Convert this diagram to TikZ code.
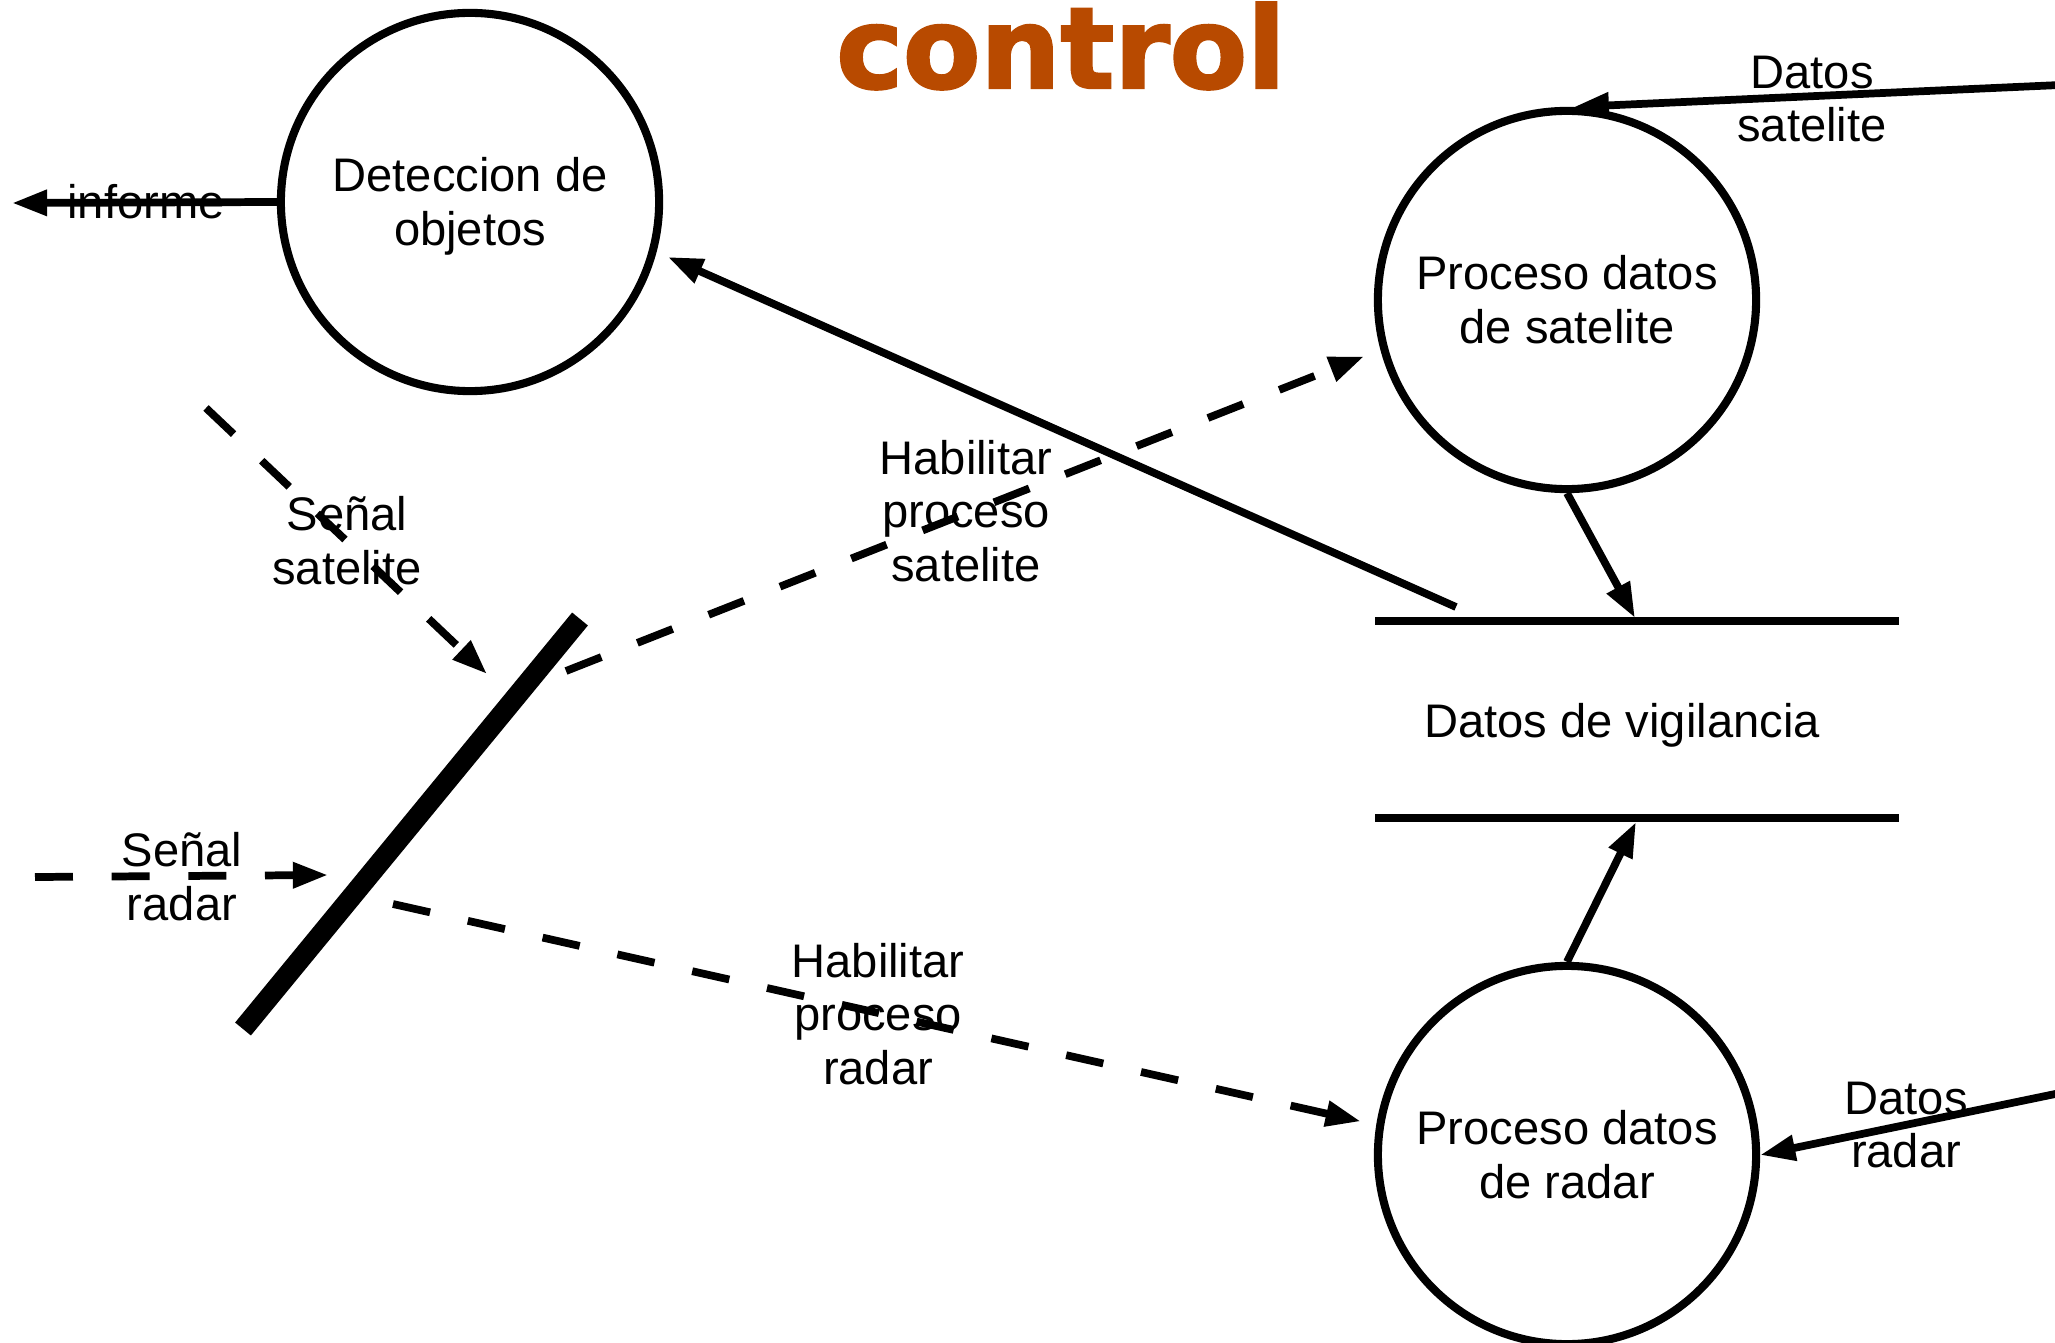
\documentclass[tikz,border=0pt]{standalone}
\usepackage{fontspec}
\setmainfont{Liberation Sans}
\newfontfamily\titlefont[FakeBold=2.2]{DejaVu Sans Bold}
\usepackage{tikz}
\usetikzlibrary{arrows.meta}
\definecolor{titulo}{RGB}{184,74,0}
\newcommand\bajar{\rule{0pt}{12.2pt}}

\begin{document}
\begin{tikzpicture}[x=0.01cm, y=-0.01cm,
    every node/.style={font=\fontsize{13.4}{15.3}\selectfont, align=center},
    proceso/.style={circle, draw, line width=2.3pt, minimum size=3.78cm, inner sep=0pt},
    flujo/.style={line width=2.2pt, -{Triangle[length=10pt, width=7pt]}},
    ctrl/.style={flujo, dash pattern=on 10.8pt off 11pt}]
      \useasboundingbox (0,0) rectangle (2055,1343);
      \node[anchor=base, font=\titlefont\fontsize{32}{38}\selectfont, text=titulo] (titulo) at (1061,88) {control};
      \node[proceso] (deteccion) at (470,202) {\bajar Deteccion de\\objetos};
      \node[proceso] (satelite) at (1567,300) {Proceso datos\\de satelite};
      \node[proceso] (radar) at (1567,1155) {Proceso datos\\de radar};
      \node (vigilancia) at (1622,725) {Datos de vigilancia};
      \draw[line width=2.3pt] (1375,621) -- (1899,621);
      \draw[line width=2.3pt] (1375,818) -- (1899,818);
      \draw[line width=5.8pt] (243,1029) -- (580,619);
      \coordinate (informe) at (12,203);
      \coordinate (sat in) at (2060,85);
      \coordinate (rad in) at (2060,1093);
      \coordinate (ss a) at (206,408);
      \coordinate (ss b) at (487,674);
      \coordinate (sr a) at (35,877);
      \coordinate (sr b) at (328,875);
      \coordinate (hs a) at (566,671);
      \coordinate (hr a) at (393,904);
      \coordinate (v arriba) at (1635,618);
      \coordinate (v abajo) at (1636,822);
      \coordinate (v salida) at (1456,607);
      \draw[flujo] (deteccion.west) -- (informe);
      \draw[flujo, shorten >=3.5pt] (v salida) -- (deteccion.-15);
      \draw[flujo] (satelite.south) -- (v arriba);
      \draw[flujo] (radar.north) -- (v abajo);
      \draw[flujo] (sat in) -- (satelite.88);
      \draw[flujo] (rad in) -- (radar.east);
      \draw[ctrl] (ss a) -- (ss b);
      \draw[ctrl] (sr a) -- (sr b);
      \draw[ctrl, shorten >=5pt] (hs a) -- (satelite.195);
      \draw[ctrl, shorten >=4.5pt] (hr a) -- (radar.171);
      \node (l informe) at (146,202) {informe};
      \node (l datsat) at (1812,99) {Datos\\satelite};
      \node (l datrad) at (1906,1125) {Datos\\radar};
      \node (l ss) at (347,541) {Señal\\satelite};
      \node (l sr) at (182,877) {Señal\\radar};
      \node (l hs) at (966,511) {Habilitar\\proceso\\satelite};
      \node (l hr) at (878,1014) {Habilitar\\proceso\\radar};
    \end{tikzpicture}
\end{document}
